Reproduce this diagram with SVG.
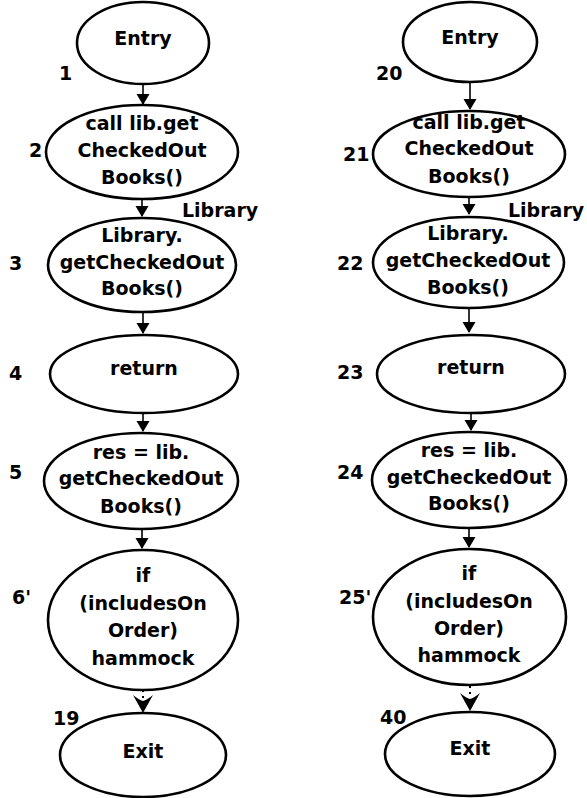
<svg xmlns="http://www.w3.org/2000/svg" width="587" height="798" viewBox="0 0 587 798">
  <style>
    .node ellipse { fill: #ffffff; stroke: #000000; stroke-width: 2.6; }
    .node text, .lbl { font-family: "DejaVu Sans", "Liberation Sans", sans-serif; font-weight: bold; font-size: 19px; fill: #000000; }
    .node text { text-anchor: middle; }
    .edge { stroke: #000000; stroke-width: 1.6; fill: none; }
    .dot { stroke: #000000; stroke-width: 2; fill: none; stroke-dasharray: 2 4; }
    .head { fill: #000000; stroke: none; }
  </style>
  <defs>
    <path id="ah" class="head" d="M-6.5,-11 L6.5,-11 L0,0 Z"/>
    <path id="ahv" class="head" d="M-10,-17 Q-4,-12 0,-11 Q4,-12 10,-17 L0,1 Z"/>
  </defs>

  <!-- connectors -->
  <g id="edges">
    <path class="edge" d="M143,84 V104"/><use href="#ah" x="143" y="105"/>
    <path class="edge" d="M142,199 V216"/><use href="#ah" x="142" y="217"/>
    <path class="edge" d="M143,312 V333"/><use href="#ah" x="143" y="334"/>
    <path class="edge" d="M143,413 V431"/><use href="#ah" x="143" y="432"/>
    <path class="edge" d="M142,529 V548"/><use href="#ah" x="142" y="549"/>
    <path class="dot" d="M143,690 V698"/><use href="#ahv" x="143" y="712"/>

    <path class="edge" d="M470,83 V109"/><use href="#ah" x="470" y="110"/>
    <path class="edge" d="M469,197 V214"/><use href="#ah" x="469" y="215"/>
    <path class="edge" d="M469,308 V332"/><use href="#ah" x="469" y="333"/>
    <path class="edge" d="M471,413 V430"/><use href="#ah" x="471" y="431"/>
    <path class="edge" d="M469,528 V547"/><use href="#ah" x="469" y="548"/>
    <path class="dot" d="M470,686 V696"/><use href="#ahv" x="470" y="710"/>
  </g>

  <!-- left graph -->
  <g id="n1" class="node">
    <ellipse cx="143" cy="43" rx="66" ry="41"/>
    <text x="143" y="45">Entry</text>
  </g>
  <g id="n2" class="node">
    <ellipse cx="142" cy="152" rx="96" ry="47"/>
    <text x="142" y="130">call lib.get</text>
    <text x="142" y="157">CheckedOut</text>
    <text x="142" y="184">Books()</text>
  </g>
  <g id="n3" class="node">
    <ellipse cx="142" cy="265" rx="94" ry="47"/>
    <text x="142" y="242">Library.</text>
    <text x="142" y="269">getCheckedOut</text>
    <text x="142" y="295">Books()</text>
  </g>
  <g id="n4" class="node">
    <ellipse cx="144" cy="374" rx="94" ry="39"/>
    <text x="144" y="375">return</text>
  </g>
  <g id="n5" class="node">
    <ellipse cx="141" cy="481" rx="97" ry="48"/>
    <text x="141" y="459">res = lib.</text>
    <text x="141" y="485">getCheckedOut</text>
    <text x="141" y="513">Books()</text>
  </g>
  <g id="n6" class="node">
    <ellipse cx="143" cy="620" rx="95" ry="70"/>
    <text x="143" y="582">if</text>
    <text x="143" y="610">(includesOn</text>
    <text x="143" y="637">Order)</text>
    <text x="143" y="665">hammock</text>
  </g>
  <g id="n19" class="node">
    <ellipse cx="143" cy="755" rx="83" ry="42"/>
    <text x="143" y="758">Exit</text>
  </g>

  <!-- right graph -->
  <g id="n20" class="node">
    <ellipse cx="470" cy="42" rx="67" ry="40"/>
    <text x="470" y="44">Entry</text>
  </g>
  <g id="n21" class="node">
    <ellipse cx="469" cy="154" rx="96" ry="43"/>
    <text x="469" y="129">call lib.get</text>
    <text x="469" y="155">CheckedOut</text>
    <text x="469" y="183">Books()</text>
  </g>
  <g id="n22" class="node">
    <ellipse cx="468.5" cy="262.5" rx="95.5" ry="45.5"/>
    <text x="468" y="240">Library.</text>
    <text x="468" y="267">getCheckedOut</text>
    <text x="468" y="294">Books()</text>
  </g>
  <g id="n23" class="node">
    <ellipse cx="471" cy="374" rx="94" ry="39"/>
    <text x="471" y="374">return</text>
  </g>
  <g id="n24" class="node">
    <ellipse cx="469" cy="480" rx="97" ry="48"/>
    <text x="469" y="457">res = lib.</text>
    <text x="469" y="484">getCheckedOut</text>
    <text x="469" y="510">Books()</text>
  </g>
  <g id="n25" class="node">
    <ellipse cx="469.5" cy="617" rx="96.5" ry="68"/>
    <text x="469" y="580">if</text>
    <text x="469" y="608">(includesOn</text>
    <text x="469" y="635">Order)</text>
    <text x="469" y="662">hammock</text>
  </g>
  <g id="n40" class="node">
    <ellipse cx="470" cy="754" rx="85" ry="42"/>
    <text x="470" y="755">Exit</text>
  </g>

  <!-- node numbers and call labels -->
  <g id="labels">
    <text class="lbl" x="59" y="80">1</text>
    <text class="lbl" x="29" y="157">2</text>
    <text class="lbl" x="9" y="270">3</text>
    <text class="lbl" x="9" y="380">4</text>
    <text class="lbl" x="9" y="479">5</text>
    <text class="lbl" x="12" y="604">6'</text>
    <text class="lbl" x="53" y="725">19</text>
    <text class="lbl" x="182" y="217">Library</text>

    <text class="lbl" x="376" y="80">20</text>
    <text class="lbl" x="343" y="161">21</text>
    <text class="lbl" x="337" y="270">22</text>
    <text class="lbl" x="337" y="379">23</text>
    <text class="lbl" x="337" y="479">24</text>
    <text class="lbl" x="339" y="604">25'</text>
    <text class="lbl" x="380" y="724">40</text>
    <text class="lbl" x="508" y="217">Library</text>
  </g>
</svg>
